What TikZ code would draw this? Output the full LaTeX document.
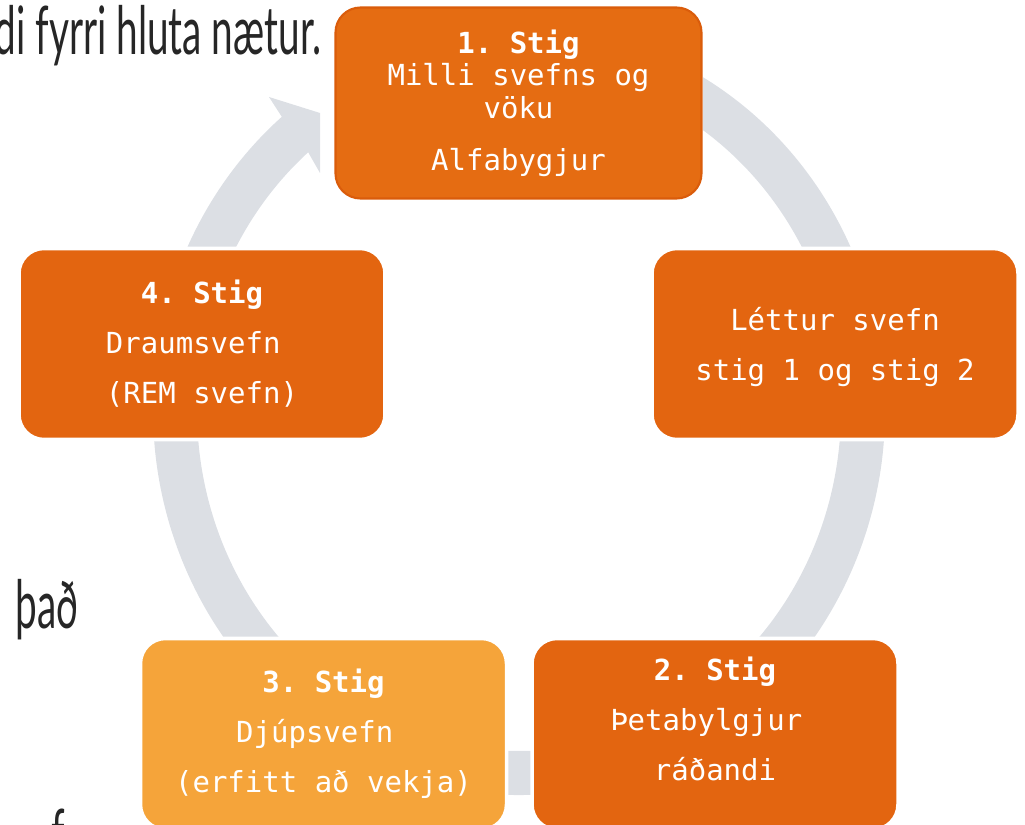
\documentclass[tikz,border=0pt]{standalone}
\usepackage{fontspec}
\usepackage{tikz}
\usetikzlibrary{positioning, calc}
\setmonofont{DejaVu Sans Mono}
\newfontfamily\slidefont[FakeStretch=0.58]{Lato}
\definecolor{slorange}{HTML}{E36510}
\definecolor{sltop}{HTML}{E56C12}
\definecolor{sledge}{HTML}{DA5C0B}
\definecolor{sllight}{HTML}{F5A43A}
\definecolor{slring}{HTML}{DCDFE4}
\definecolor{slink}{HTML}{262626}

\begin{document}
\begin{tikzpicture}[
  stage/.style={rectangle, rounded corners=0.5cm, draw=white, line width=2pt, fill=#1, minimum width=7.32cm, minimum height=3.82cm, text=white, align=center, font=\ttfamily\fontsize{16.5}{28.5}\selectfont},
  slide/.style={text=slink, inner sep=0pt, font=\slidefont\fontsize{38}{38}\selectfont},
]
  \useasboundingbox (0,0) rectangle (20.5,16.48);

  % Slide text behind the diagram
  \node[slide, anchor=base east] (txtnight) at (6.44,15.38) {di fyrri hluta nætur.};
  \node[slide, anchor=base west] (txtthad) at (0.30,3.92) {það};
  \node[slide, anchor=base west] (txtf) at (1.02,-0.66) {f};

  % Cycle ring with arrow head
  \coordinate (ctr) at (10.38,8.28);
  \fill[slring] ([shift={(ctr)}]59.8:7.32 and 7.7)
    arc[start angle=59.8, end angle=-229.6, x radius=7.32, y radius=7.7]
    -- (5.38,14.54) -- (6.40,14.22) -- (6.40,13.02)
    -- ([shift={(ctr)}]130.9:6.44 and 6.82)
    arc[start angle=-229.1, end angle=55.15, x radius=6.44, y radius=6.82]
    -- cycle;

  % Sleep stages
  \node[stage=sltop, draw=sledge, line width=1.2pt, font=\ttfamily\fontsize{16.5}{18.5}\selectfont] (vaka) at (10.37,14.42) {\textbf{1. Stig}\\Milli svefns og\\vöku\\[11pt]Alfabygjur};
  \node[stage=slorange, text depth=-0.23cm] (lett) at (16.70,9.60) {Léttur svefn\\stig 1 og stig 2};
  \node[stage=slorange, text depth=0.6cm] (theta) at (14.30,1.80) {\textbf{2. Stig}\\Þetabylgjur\hphantom{x}\\ráðandi};
  \node[stage=sllight] (djup) at (6.47,1.80) {\textbf{3. Stig}\\Djúpsvefn\hphantom{x}\\(erfitt að vekja)};
  \node[stage=slorange] (draum) at (4.04,9.60) {\textbf{4. Stig}\\Draumsvefn\hphantom{x}\\(REM svefn)};
\end{tikzpicture}
\end{document}
